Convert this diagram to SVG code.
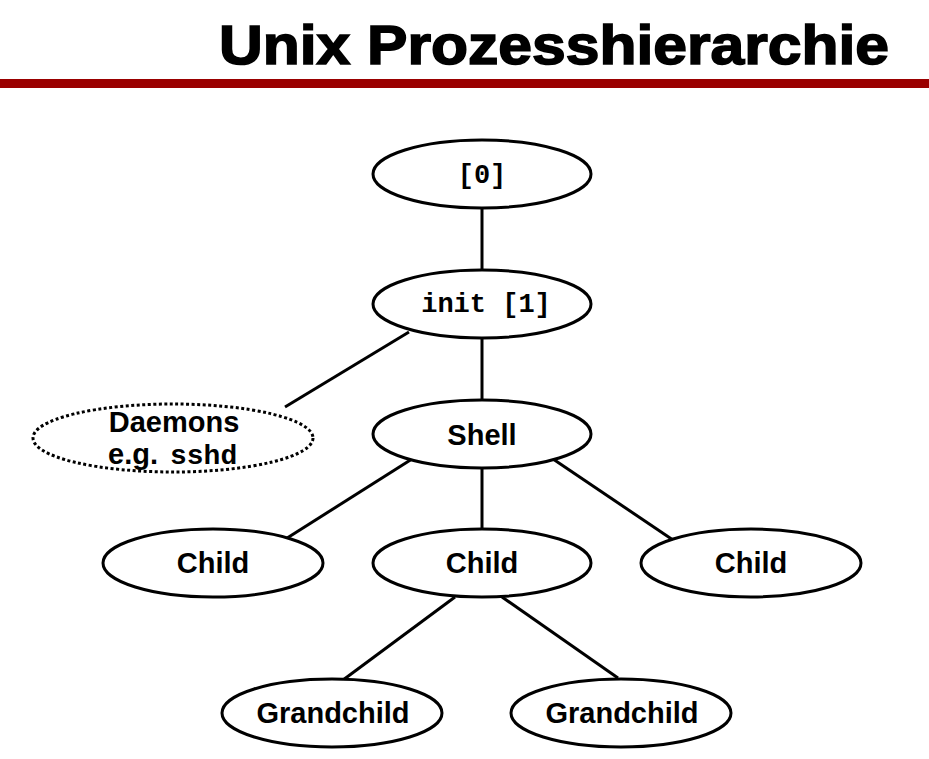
<svg xmlns="http://www.w3.org/2000/svg" width="929" height="759" viewBox="0 0 929 759">
<style>
.n{fill:#fff;stroke:#000;stroke-width:3}
.d{fill:#fff;stroke:#000;stroke-width:3;stroke-dasharray:3 2.5}
.s{font-family:"Liberation Sans",Arial,sans-serif;font-weight:bold;font-size:29px;text-anchor:middle;fill:#000}
.m{font-family:"Liberation Mono","Courier New",monospace;font-weight:bold;font-size:27px;text-anchor:middle;fill:#000}
.mm{font-family:"Liberation Mono","Courier New",monospace;font-weight:bold;font-size:28px;fill:#000}
.c line{stroke:#000;stroke-width:3}
.t{font-family:"Liberation Sans",Arial,sans-serif;font-weight:bold;font-size:56px;fill:#000;stroke:#000;stroke-width:1.6}
</style>
<rect width="929" height="759" fill="#fff"/>
<text class="t" x="219" y="64" textLength="670" lengthAdjust="spacingAndGlyphs">Unix Prozesshierarchie</text>
<rect x="0" y="79" width="929" height="9" fill="#9a0000"/>
<g class="c" id="connectors">
<line x1="482" y1="208" x2="482" y2="270"/>
<line x1="409" y1="332" x2="285" y2="407"/>
<line x1="482" y1="338" x2="482" y2="400"/>
<line x1="412" y1="459" x2="284" y2="540"/>
<line x1="482" y1="468" x2="482" y2="529"/>
<line x1="553" y1="459" x2="673" y2="540"/>
<line x1="455" y1="597" x2="343" y2="680"/>
<line x1="502" y1="597" x2="618" y2="678"/>
</g>
<g id="n0"><ellipse class="n" cx="482" cy="174" rx="109" ry="34"/><text class="m" x="482" y="183">[0]</text></g>
<g id="init"><ellipse class="n" cx="482" cy="304" rx="109" ry="34"/><text class="m" x="486" y="312">init [1]</text></g>
<g id="daemons"><ellipse class="d" cx="173" cy="438" rx="140" ry="34"/><text class="s" x="174" y="432">Daemons</text><text class="s" x="108" y="464" style="text-anchor:start">e.g.</text><text class="mm" x="170" y="464">sshd</text></g>
<g id="shell"><ellipse class="n" cx="482" cy="434" rx="109" ry="34"/><text class="s" x="482" y="445">Shell</text></g>
<g id="child1"><ellipse class="n" cx="213" cy="563" rx="110" ry="34"/><text class="s" x="213" y="573">Child</text></g>
<g id="child2"><ellipse class="n" cx="482" cy="563" rx="109" ry="34"/><text class="s" x="482" y="573">Child</text></g>
<g id="child3"><ellipse class="n" cx="751" cy="563" rx="110" ry="34"/><text class="s" x="751" y="573">Child</text></g>
<g id="gc1"><ellipse class="n" cx="332" cy="713" rx="110" ry="34"/><text class="s" x="333" y="723">Grandchild</text></g>
<g id="gc2"><ellipse class="n" cx="621" cy="713" rx="110" ry="34"/><text class="s" x="622" y="723">Grandchild</text></g>
</svg>
